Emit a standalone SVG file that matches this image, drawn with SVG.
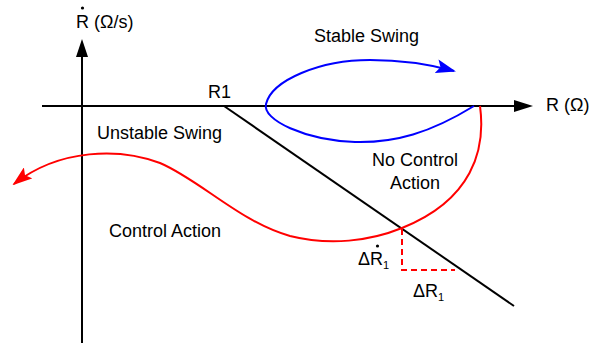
<svg xmlns="http://www.w3.org/2000/svg" width="592" height="344" viewBox="0 0 592 344">
<defs>
<style>
text{font-family:"Liberation Sans",Arial,sans-serif;fill:#000;font-size:18px}
.sub{font-size:11px}
.ax{stroke:#000;stroke-width:2;fill:none}
.blue{stroke:#0000ff;stroke-width:2;fill:none}
.red{stroke:#ff0000;stroke-width:2;fill:none}
</style>
<marker id="ab" markerWidth="20" markerHeight="14" refX="18" refY="7" orient="auto" markerUnits="userSpaceOnUse" viewBox="0 0 20 14"><path d="M0,0 L20,7 L0,14 L4,7 z" fill="#0000ff"/></marker>
<marker id="ar" markerWidth="20" markerHeight="14" refX="18" refY="7" orient="auto" markerUnits="userSpaceOnUse" viewBox="0 0 20 14"><path d="M0,0 L20,7 L0,14 L4,7 z" fill="#ff0000"/></marker>
</defs>
<rect width="592" height="344" fill="#fff"/>
<g id="connectors">
<line class="ax" x1="42" y1="106" x2="515" y2="106"/>
<path d="M514,100 L533,106 L514,112 z" fill="#000"/>
<line class="ax" x1="82" y1="343" x2="82" y2="56"/>
<path d="M76,57 L82,39 L88,57 z" fill="#000"/>
<line class="ax" x1="224" y1="106" x2="514" y2="306"/>
<path class="blue" d="M474,106 C430,133 395,143 355,142 C305,140 262,120 266,104 C272,80 320,60 370,60 C400,60 425,63 454,71" marker-end="url(#ab)"/>
<path class="red" d="M480,106 C486,150 472,200 402,228 C370,241 330,246 290,236 C240,222 200,180 160,163 C120,148 60,148 14,184" marker-end="url(#ar)"/>
<polyline points="402,229 402,270 455,270" stroke="#ff0000" stroke-width="2" fill="none" stroke-dasharray="6,4"/>
</g>
<g id="labels">
<text x="76" y="28">R (Ω/s)</text>
<circle cx="82.5" cy="8" r="1.6" fill="#000"/>
<text x="546" y="111">R (Ω)</text>
<text x="208" y="98">R1</text>
<text x="314" y="42">Stable Swing</text>
<text x="97" y="139">Unstable Swing</text>
<text x="372" y="166">No Control</text>
<text x="390" y="189">Action</text>
<text x="109" y="237">Control Action</text>
<text x="358" y="265">ΔR<tspan class="sub" dy="4">1</tspan></text>
<circle cx="377.5" cy="246" r="1.6" fill="#000"/>
<text x="413" y="297">ΔR<tspan class="sub" dy="4">1</tspan></text>
</g>
</svg>
